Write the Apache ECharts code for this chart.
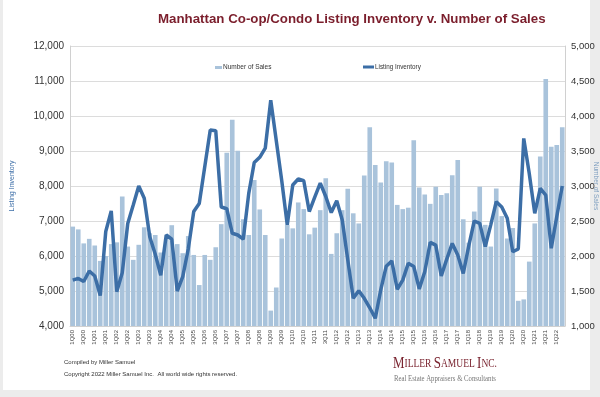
<!DOCTYPE html>
<html>
<head>
<meta charset="utf-8">
<script src="https://cdn.jsdelivr.net/npm/echarts@6/dist/echarts.min.js"></script>
<style>
    html, body { margin: 0; padding: 0; background: #ececec; overflow: hidden; }
    #container { width: 600px; height: 397px; }
</style>
</head>
<body>
<div id="container"></div>
<script type="text/javascript">
    // quarters 1Q00 .. 2Q22
    var quarters = [];
    for (var y = 0; y <= 22; y++) {
        for (var q = 1; q <= 4; q++) {
            if (y === 22 && q > 2) break;
            quarters.push(q + 'Q' + (y < 10 ? '0' + y : '' + y));
        }
    }

    var numberOfSales = [
        2420, 2380, 2180, 2245, 2150, 1930, 2000, 2170, 2195, 2850,
        2135, 1945, 2160, 2410, 2325, 2300, 2050, 2250, 2440, 2170,
        2040, 2285, 2015, 1585, 2015, 1945, 2125, 2455, 3475, 3945,
        3505, 2525, 2300, 3085, 2665, 2300, 1220, 1550, 2250, 2445,
        2395, 2765, 2670, 2310, 2405, 2655, 3110, 2030, 2325, 2655,
        2960, 2610, 2465, 3150, 3840, 3300, 3050, 3355, 3335, 2730,
        2670, 2690, 3655, 2980, 2880, 2745, 2990, 2870, 2895, 3155,
        3370, 2525, 2190, 2635, 2990, 2445, 2135, 2965, 2570, 2250,
        2400, 1360, 1380, 1920, 2465, 3420, 4530, 3560, 3585, 3840
    ];

    var listingInventory = [
        5310, 5360, 5270, 5570, 5430, 4870, 6700, 7290, 4980, 5520,
        6930, 7460, 8000, 7650, 6550, 6050, 5450, 6600, 6480, 5000,
        5410, 6200, 7270, 7500, 8550, 9600, 9580, 7400, 7350, 6650,
        6600, 6480, 7790, 8670, 8820, 9080, 10450, 9300, 8150, 6890,
        8030, 8200, 8150, 7270, 7680, 8080, 7700, 7240, 7580, 7030,
        5890, 4790, 5010, 4790, 4520, 4220, 5030, 5710, 5860, 5050,
        5310, 5790, 5700, 5060, 5550, 6390, 6310, 5430, 5910, 6360,
        6030, 5500, 6290, 7000, 6930, 6270, 6890, 7550, 7400, 7080,
        6120, 6200, 9360, 8360, 7220, 7930, 7740, 6220, 7120, 8000
    ];

    var dom = document.getElementById("container");
    var myChart = echarts.init(dom);

    var fmt = function (v) { return echarts.format.addCommas(v); };

    var option = {
        animation: false,
        backgroundColor: '#ececec',
        graphic: [
            {
                type: 'rect',
                shape: {x: 3, y: 0, width: 587, height: 390},
                style: {fill: '#ffffff'},
                z: -10
            },
            {
                type: 'text',
                left: 64, top: 359,
                style: {text: 'Compiled by Miller Samuel', fontSize: 6, fill: '#333', fontFamily: 'Liberation Sans'}
            },
            {
                type: 'text',
                left: 64, top: 371,
                style: {text: 'Copyright 2022 Miller Samuel Inc.  All world wide rights reserved.', fontSize: 6, fill: '#333', fontFamily: 'Liberation Sans'}
            },
            {
                // logo, squeezed to look like the condensed small caps
                type: 'text',
                x: 393, y: 355,
                scaleX: 0.76,
                style: {
                    text: '{b|M}{s|ILLER }{b|S}{s|AMUEL }{b|I}{s|NC.}',
                    rich: {
                        b: {fontSize: 17, fill: '#7a2430', fontFamily: 'Liberation Serif'},
                        s: {fontSize: 12.5, fill: '#7a2430', fontFamily: 'Liberation Serif'}
                    }
                }
            },
            {
                type: 'text',
                x: 394, y: 374,
                scaleX: 0.75,
                style: {text: 'Real Estate Appraisers & Consultants', fontSize: 9, fill: '#777', fontFamily: 'Liberation Serif'}
            }
        ],
        title: {
            text: 'Manhattan Co-op/Condo Listing Inventory v. Number of Sales',
            left: 153,
            top: 8,
            textStyle: {fontSize: 13.3, fontWeight: 'bold', color: '#7b1e2c', fontFamily: 'Liberation Sans'}
        },
        legend: [
            {
                data: ['Number of Sales'],
                left: 210, top: 59,
                icon: 'rect', itemWidth: 7, itemHeight: 3, itemGap: 2,
                textStyle: {fontSize: 6.5, color: '#333', fontFamily: 'Liberation Sans', padding: [0, 0, 0, -4]}
            },
            {
                data: ['Listing Inventory'],
                left: 358, top: 59,
                icon: 'rect', itemWidth: 11, itemHeight: 3,
                textStyle: {fontSize: 6.3, color: '#333', fontFamily: 'Liberation Sans', padding: [0, 0, 0, -4]}
            }
        ],
        grid: {left: 70, right: 35, top: 46, bottom: 71, outerBoundsMode: 'none'},
        xAxis: {
            type: 'category',
            data: quarters,
            axisTick: {show: false},
            axisLine: {lineStyle: {color: '#d0d0d0'}},
            axisLabel: {
                interval: 1,
                rotate: 90,
                fontSize: 6,
                color: '#444',
                margin: 4,
                fontFamily: 'Liberation Sans'
            }
        },
        yAxis: [
            {
                type: 'value',
                min: 4000, max: 12000, interval: 1000,
                name: 'Listing Inventory',
                nameLocation: 'middle',
                nameGap: 54,
                nameRotate: 90,
                nameMoveOverlap: false,
                nameTextStyle: {fontSize: 7, color: '#3e6fa8', fontFamily: 'Liberation Sans'},
                axisLine: {show: true, lineStyle: {color: '#d0d0d0'}},
                axisTick: {show: false},
                axisLabel: {formatter: fmt, fontSize: 10, color: '#333', margin: 6, fontFamily: 'Liberation Sans'},
                splitLine: {lineStyle: {color: '#dcdcdc'}}
            },
            {
                type: 'value',
                min: 1000, max: 5000, interval: 500,
                name: 'Number of Sales',
                nameLocation: 'middle',
                nameGap: 27,
                nameRotate: -90,
                nameMoveOverlap: false,
                nameTextStyle: {fontSize: 6.5, color: '#7f9fc0', fontFamily: 'Liberation Sans'},
                axisLine: {show: true, lineStyle: {color: '#d0d0d0'}},
                axisTick: {show: false},
                axisLabel: {formatter: fmt, fontSize: 9.5, color: '#333', margin: 6, fontFamily: 'Liberation Sans'},
                splitLine: {show: false}
            }
        ],
        series: [
            {
                name: 'Number of Sales',
                type: 'bar',
                yAxisIndex: 1,
                data: numberOfSales,
                barCategoryGap: '16%',
                itemStyle: {color: '#a9c3db'}
            },
            {
                name: 'Listing Inventory',
                type: 'line',
                yAxisIndex: 0,
                data: listingInventory,
                symbol: 'none',
                lineStyle: {width: 3.5, color: '#3c6ea6'},
                itemStyle: {color: '#3c6ea6'},
                z: 5
            }
        ]
    };
    if (option && typeof option === "object") {
        myChart.setOption(option, true);
    }
</script>
</body>
</html>
